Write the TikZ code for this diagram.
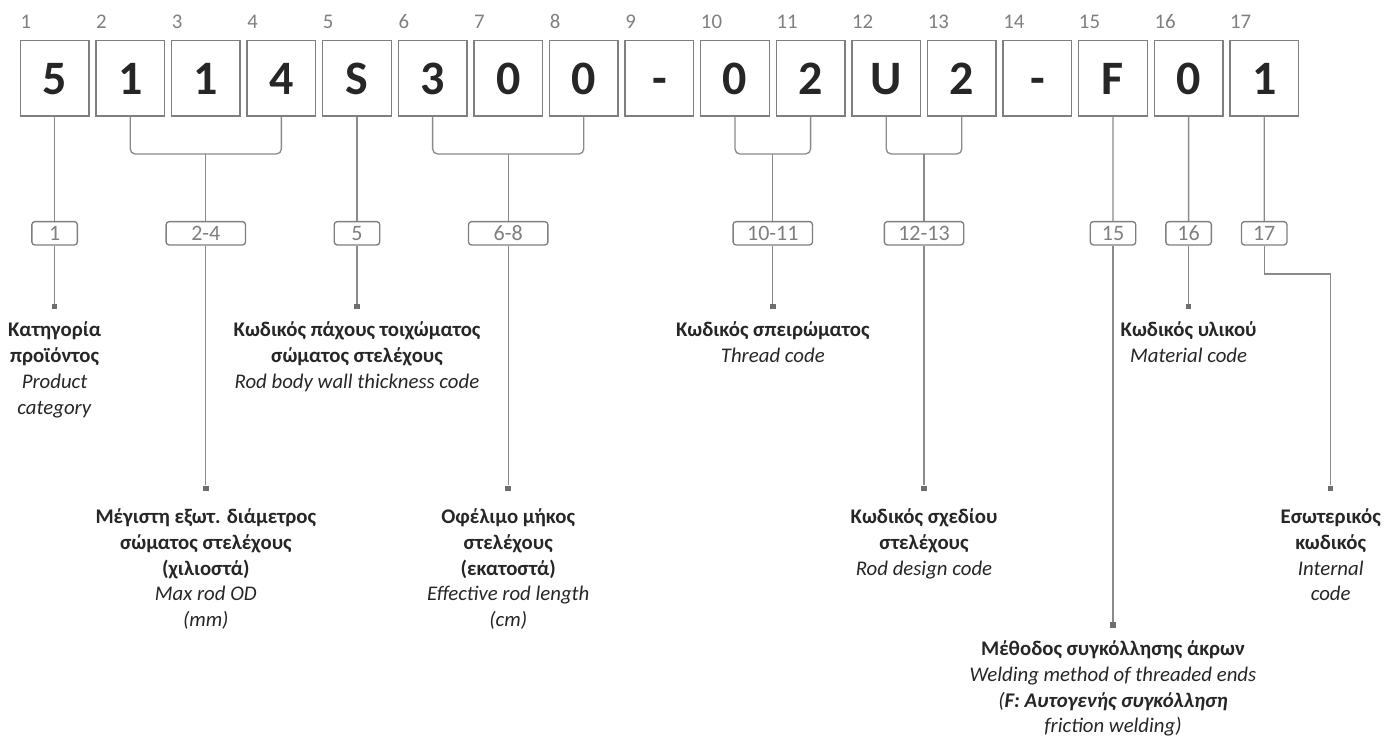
\documentclass[tikz,border=0pt]{standalone}
\usepackage{fontspec}
\setmainfont{Carlito}
\definecolor{linegray}{HTML}{8A8A8A}
\definecolor{boxgray}{HTML}{7F7F7F}
\definecolor{txt}{HTML}{262626}
\definecolor{idx}{HTML}{7F7F7F}
\definecolor{sqcol}{HTML}{6E6E6E}
\newcommand\descblock[1]{\begin{tabular}[t]{@{}c@{}}#1\end{tabular}}
\begin{document}
\begin{tikzpicture}[x=0.75pt,y=-0.75pt,
  charbox/.style={draw=boxgray, line width=1pt, fill=white, minimum width=51.45pt, minimum height=56.8pt, inner sep=0pt, text height=24pt, text depth=0pt, font=\fontsize{36}{40}\selectfont\bfseries, text=txt},
  idxlabel/.style={anchor=base west, inner sep=0pt, font=\fontsize{15.6}{19}\selectfont, text=idx},
  rangebox/.style={draw=boxgray, line width=1pt, rounded corners=2.25pt, fill=white, minimum height=17.5pt, minimum width=34.1pt, inner sep=0pt, text height=10.5pt, text depth=0pt, font=\fontsize{16.5}{19}\selectfont, text=idx},
  widebox/.style={rangebox, minimum width=59.5pt},
  conn/.style={draw=linegray, line width=1pt},
  endsq/.style={fill=sqcol, minimum size=4.1pt, inner sep=0pt},
  desc/.style={anchor=base, inner sep=0pt, text=txt, font=\fontsize{15.6}{19.3}\selectfont}]
\useasboundingbox (0,0) rectangle (1400,737);

% character boxes and index labels
\foreach \i/\c in {1/5,2/1,3/1,4/4,5/S,6/3,7/0,8/0,9/-,10/0,11/2,12/U,13/2,14/-,15/F,16/0,17/1} {
  \node[charbox] (b\i) at ({54.6+(\i-1)*75.6},78.2) {\c};
  \node[idxlabel] (n\i) at ({20.3+(\i-1)*75.6},28.3) {\i};
}

% range label boxes
\node[rangebox] (l1) at (54.6,233.3) {1};
\node[widebox] (l24) at (205.8,233.3) {2-4};
\node[rangebox] (l5) at (357,233.3) {5};
\node[widebox] (l68) at (508.2,233.3) {6-8};
\node[widebox] (l1011) at (772.8,233.3) {10-11};
\node[widebox] (l1213) at (924,233.3) {12-13};
\node[rangebox] (l15) at (1113,233.3) {15};
\node[rangebox] (l16) at (1188.6,233.3) {16};
\node[rangebox] (l17) at (1264.2,233.3) {17};

% bracket junctions
\coordinate (j24) at (205.8,154);
\coordinate (j68) at (508.2,154);
\coordinate (j1011) at (772.8,154);
\coordinate (j1213) at (924,154);
\coordinate (k17) at (1330.7,274);

% end squares
\node[endsq] (e1) at (54.6,306.7) {};
\node[endsq] (e24) at (205.8,488.5) {};
\node[endsq] (e5) at (357,306.7) {};
\node[endsq] (e68) at (508.2,488.5) {};
\node[endsq] (e1011) at (772.8,306.7) {};
\node[endsq] (e1213) at (924,488.5) {};
\node[endsq] (e15) at (1113,625) {};
\node[endsq] (e16) at (1188.6,306.7) {};
\node[endsq] (e17) at (1330.7,488.5) {};

% connectors: boxes to labels
\draw[conn] (b1.south) -- (l1.north);
\draw[conn, rounded corners=3.75pt] (b2.south) |- (j24) -| (b4.south);
\draw[conn] (j24) -- (l24.north);
\draw[conn] (b5.south) -- (l5.north);
\draw[conn, rounded corners=3.75pt] (b6.south) |- (j68) -| (b8.south);
\draw[conn] (j68) -- (l68.north);
\draw[conn, rounded corners=3.75pt] (b10.south) |- (j1011) -| (b11.south);
\draw[conn] (j1011) -- (l1011.north);
\draw[conn, rounded corners=3.75pt] (b12.south) |- (j1213) -| (b13.south);
\draw[conn] (j1213) -- (l1213.north);
\draw[conn] (b15.south) -- (l15.north);
\draw[conn] (b16.south) -- (l16.north);
\draw[conn] (b17.south) -- (l17.north);

% connectors: labels to end squares
\draw[conn] (l1.south) -- (e1);
\draw[conn] (l24.south) -- (e24);
\draw[conn] (l5.south) -- (e5);
\draw[conn] (l68.south) -- (e68);
\draw[conn] (l1011.south) -- (e1011);
\draw[conn] (l1213.south) -- (e1213);
\draw[conn] (l15.south) -- (e15);
\draw[conn] (l16.south) -- (e16);
\draw[conn] (l17.south) |- (k17) -- (e17);

% descriptions
\node[desc] (t1) at (54.6,337) {\descblock{\textbf{Κατηγορία}\\\textbf{προϊόντος}\\\textit{Product}\\\textit{category}}};
\node[desc] (t24) at (205.8,523.7) {\descblock{\textbf{Μέγιστη εξωτ. διάμετρος}\\\textbf{σώματος στελέχους}\\\textbf{(χιλιοστά)}\\\textit{Max rod OD}\\\textit{(mm)}}};
\node[desc] (t5) at (357,337) {\descblock{\textbf{Κωδικός πάχους τοιχώματος}\\\textbf{σώματος στελέχους}\\\textit{Rod body wall thickness code}}};
\node[desc] (t68) at (508.2,523.7) {\descblock{\textbf{Οφέλιμο μήκος}\\\textbf{στελέχους}\\\textbf{(εκατοστά)}\\\textit{Effective rod length}\\\textit{(cm)}}};
\node[desc] (t1011) at (772.8,337) {\descblock{\textbf{Κωδικός σπειρώματος}\\\textit{Thread code}}};
\node[desc] (t1213) at (924,523.7) {\descblock{\textbf{Κωδικός σχεδίου}\\\textbf{στελέχους}\\\textit{Rod design code}}};
\node[desc] (t15) at (1113,655.7) {\descblock{\textbf{Μέθοδος συγκόλλησης άκρων}\\\textit{Welding method of threaded ends}\\\textit{(\textbf{F: Αυτογενής συγκόλληση}}\\\textit{friction welding)}}};
\node[desc] (t16) at (1188.6,337) {\descblock{\textbf{Κωδικός υλικού}\\\textit{Material code}}};
\node[desc] (t17) at (1330.7,523.7) {\descblock{\textbf{Εσωτερικός}\\\textbf{κωδικός}\\\textit{Internal}\\\textit{code}}};
\end{tikzpicture}
\end{document}
